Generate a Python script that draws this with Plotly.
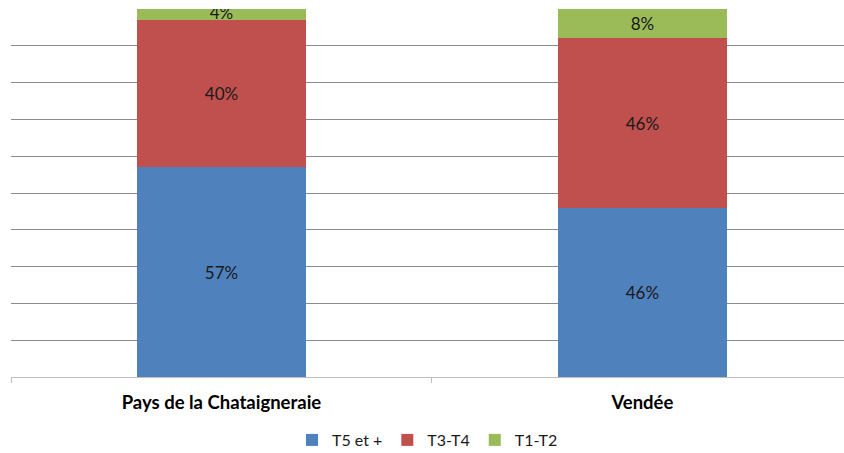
import plotly.graph_objects as go

# Share of dwellings by size
territories = ["Pays de la Chataigneraie", "Vendée"]
series_names = ["T5 et +", "T3-T4", "T1-T2"]
t5_plus = [57, 46]
t3_t4 = [40, 46]
t1_t2 = [4, 8]
colors = ["#4F81BD", "#C0504D", "#9BBB59"]

font_family = "Lato, 'Open Sans', sans-serif"

fig = go.Figure()
for name, vals, col in zip(series_names, [t5_plus, t3_t4, t1_t2], colors):
    fig.add_trace(go.Bar(
        x=territories,
        y=vals,
        name=name,
        marker=dict(color=col, line=dict(width=0)),
        text=[f"{v}%" for v in vals],
        textposition="inside",
        insidetextanchor="middle",
        constraintext="none",
        textfont=dict(family=font_family, size=17, color="#1a1a1a"),
        width=0.4,
    ))

fig.update_layout(
    barmode="stack",
    width=844,
    height=453,
    margin=dict(l=11, r=0, t=9, b=76, autoexpand=False),
    paper_bgcolor="white",
    plot_bgcolor="white",
    font=dict(family=font_family, color="#000000"),
    showlegend=True,
    legend=dict(
        orientation="h",
        x=0.5, xanchor="center",
        y=-0.125, yanchor="top",
        font=dict(family=font_family, size=16, color="#1a1a1a"),
        itemwidth=30,
        traceorder="normal",
    ),
    xaxis=dict(
        range=[-0.5, 1.479],
        showgrid=False,
        showline=True,
        linecolor="#bfbfbf",
        linewidth=1,
        ticks="outside",
        tickson="boundaries",
        ticklen=5,
        tickcolor="#bfbfbf",
        ticklabelstandoff=9,
        tickfont=dict(family=font_family, size=18.5, color="#000000", weight="bold"),
        zeroline=False,
    ),
    yaxis=dict(
        range=[0, 100],
        dtick=10,
        showgrid=True,
        gridcolor="#8c8c8c",
        gridwidth=1,
        showticklabels=False,
        zeroline=False,
        showline=False,
    ),
)

fig.write_html("out.html")
